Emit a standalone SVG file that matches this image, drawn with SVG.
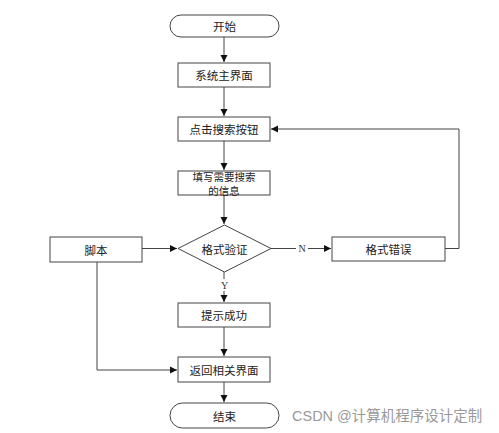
<svg xmlns="http://www.w3.org/2000/svg" width="499" height="433" viewBox="0 0 499 433">
<defs>
<marker id="ah" markerWidth="8" markerHeight="8" refX="7" refY="4" orient="auto" markerUnits="userSpaceOnUse">
<path d="M0,0.5 L7,4 L0,7.5 z" fill="#111"/>
</marker>
</defs>
<style>
.box{fill:#fff;stroke:#444;stroke-width:1}
.t{font-family:"Noto Sans CJK SC","Liberation Sans",sans-serif;font-size:11.5px;fill:#222;text-anchor:middle;dominant-baseline:central}
.t2{font-size:10.5px}
.ln{fill:none;stroke:#444;stroke-width:1}
.lab{font-family:"Liberation Serif",serif;font-size:10px;fill:#333;text-anchor:middle;dominant-baseline:central}
.wm{font-family:"Liberation Sans","Noto Sans CJK SC",sans-serif;font-size:14.5px;fill:#999}
</style>
<rect width="499" height="433" fill="#fff"/>
<g id="connectors">
<path class="ln" d="M224,37 V62" marker-end="url(#ah)"/>
<path class="ln" d="M224,87 V116" marker-end="url(#ah)"/>
<path class="ln" d="M224,141 V170" marker-end="url(#ah)"/>
<path class="ln" d="M224,195 V224" marker-end="url(#ah)"/>
<path class="ln" d="M142,248.5 H177" marker-end="url(#ah)"/>
<path class="ln" d="M271,248.5 H331" marker-end="url(#ah)"/>
<path class="ln" d="M445,248.5 H459 V129 H271" marker-end="url(#ah)"/>
<path class="ln" d="M224,272 V302" marker-end="url(#ah)"/>
<path class="ln" d="M224,327 V356" marker-end="url(#ah)"/>
<path class="ln" d="M97,262 V370 H177" marker-end="url(#ah)"/>
<path class="ln" d="M224,382 V402" marker-end="url(#ah)"/>
<rect x="296" y="242" width="12" height="13" fill="#fff"/>
<text class="lab" x="302" y="248.5">N</text>
<rect x="219" y="279" width="11" height="12" fill="#fff"/>
<text class="lab" x="224.5" y="285">Y</text>
</g>
<g id="start">
<rect class="box" x="170" y="15" width="109" height="22" rx="11" ry="11"/>
<text class="t" x="224.5" y="26">开始</text>
</g>
<g id="main">
<rect class="box" x="178" y="63" width="92" height="24"/>
<text class="t" x="224" y="75">系统主界面</text>
</g>
<g id="search">
<rect class="box" x="178" y="117" width="92" height="24"/>
<text class="t" x="224" y="129">点击搜索按钮</text>
</g>
<g id="fill">
<rect class="box" x="178" y="171" width="92" height="24"/>
<text class="t t2" x="224" y="176.5">填写需要搜索</text>
<text class="t t2" x="224" y="190">的信息</text>
</g>
<g id="verify">
<polygon class="box" points="224.5,225 271,248.5 224.5,272 178,248.5"/>
<text class="t" x="224.5" y="248.5">格式验证</text>
</g>
<g id="script">
<rect class="box" x="50" y="237" width="92" height="25"/>
<text class="t" x="96" y="249.5">脚本</text>
</g>
<g id="error">
<rect class="box" x="332" y="237" width="113" height="24"/>
<text class="t" x="388.5" y="249">格式错误</text>
</g>
<g id="success">
<rect class="box" x="178" y="303" width="92" height="24"/>
<text class="t" x="224" y="315">提示成功</text>
</g>
<g id="return">
<rect class="box" x="178" y="357" width="92" height="25"/>
<text class="t" x="224" y="369.5">返回相关界面</text>
</g>
<g id="end">
<rect class="box" x="170" y="403" width="109" height="25" rx="12.5" ry="12.5"/>
<text class="t" x="224.5" y="415.5">结束</text>
</g>
<text class="wm" x="292" y="421">CSDN @计算机程序设计定制</text>
</svg>
